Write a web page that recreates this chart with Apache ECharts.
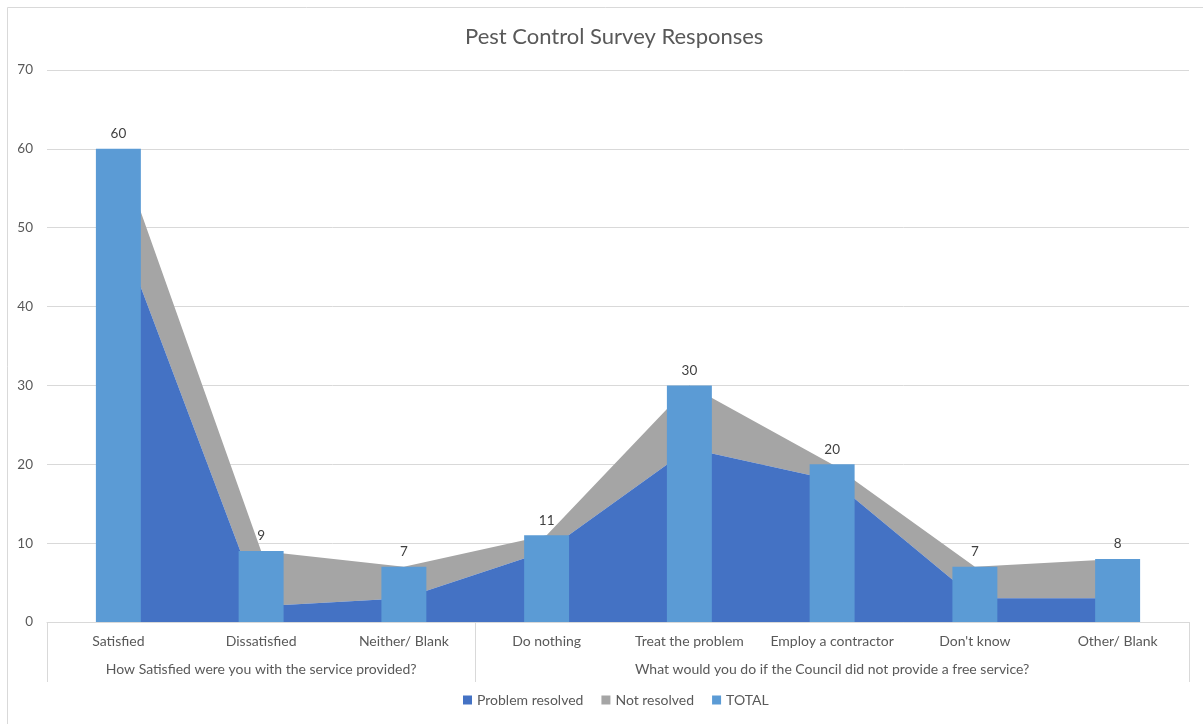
<!DOCTYPE html>
<html>
<head>
<meta charset="utf-8">
<script src="https://cdn.jsdelivr.net/npm/echarts@6/dist/echarts.min.js"></script>
<style>
html,body{margin:0;padding:0;background:#fff;}
#chart{width:1203px;height:724px;}
</style>
</head>
<body>
<div id="chart"></div>
<script>
const categories = ['Satisfied', 'Dissatisfied', 'Neither/ Blank', 'Do nothing', 'Treat the problem', 'Employ a contractor', "Don't know", 'Other/ Blank'];
const groupLabels = ['', 'How Satisfied were you with the service provided?', '', '', '', 'What would you do if the Council did not provide a free service?', '', ''];
const groupStarts = [0, 3];
const problemResolved = [50, 2, 3, 9, 22, 18, 3, 3];
const notResolved = [10, 7, 4, 2, 8, 2, 4, 5];
const total = [60, 9, 7, 11, 30, 20, 7, 8];
const yTicks = { min: 0, max: 70, interval: 10 };

const FONT = 'Lato';
const TXT = '#595959';
const chart = echarts.init(document.getElementById('chart'), null, { renderer: 'canvas' });
chart.setOption({
  backgroundColor: '#fff',
  animation: false,
  textStyle: { fontFamily: FONT },
  title: {
    text: 'Pest Control Survey Responses',
    left: 460, top: 21,
    textStyle: { fontFamily: FONT, fontSize: 22, fontWeight: 'normal', color: TXT }
  },
  graphic: [{
    type: 'rect', shape: { x: 7.5, y: 7.5, width: 1220, height: 740 },
    style: { fill: 'none', stroke: '#d9d9d9', lineWidth: 1 }, silent: true, z: -10
  }],
  legend: {
    bottom: 12, left: 458, itemWidth: 9, itemHeight: 9, itemGap: 18,
    icon: 'rect',
    textStyle: { fontFamily: FONT, fontSize: 14, color: TXT },
    data: ['Problem resolved', 'Not resolved', 'TOTAL']
  },
  grid: { left: 47, right: 14, top: 70, bottom: 102, containLabel: false },
  xAxis: [{
    type: 'category', data: categories, boundaryGap: true,
    axisLine: { show: true, lineStyle: { color: '#d9d9d9' } },
    axisTick: { show: true, length: 60, interval: function (i) { return groupStarts.indexOf(i) >= 0; }, lineStyle: { color: '#d9d9d9' } },
    axisLabel: { interval: 0, margin: 12, color: TXT, fontSize: 14, fontFamily: FONT }
  }, {
    type: 'category', data: groupLabels, position: 'bottom', offset: 28,
    axisLine: { show: false }, axisTick: { show: false },
    axisLabel: { interval: 0, margin: 12, color: TXT, fontSize: 14, fontFamily: FONT }
  }],
  yAxis: {
    type: 'value', min: yTicks.min, max: yTicks.max, interval: yTicks.interval,
    axisLine: { show: false }, axisTick: { show: false },
    axisLabel: { color: TXT, fontSize: 13.5, fontFamily: FONT, margin: 14 },
    splitLine: { lineStyle: { color: '#d9d9d9' } }
  },
  series: [{
    name: 'Problem resolved', type: 'line', stack: 'a', data: problemResolved,
    symbol: 'none', lineStyle: { width: 0 }, areaStyle: { color: '#4472C4', opacity: 1 },
    itemStyle: { color: '#4472C4' }, z: 2
  }, {
    name: 'Not resolved', type: 'line', stack: 'a', data: notResolved,
    symbol: 'none', lineStyle: { width: 0 }, areaStyle: { color: '#A5A5A5', opacity: 1 },
    itemStyle: { color: '#A5A5A5' }, z: 1
  }, {
    name: 'TOTAL', type: 'bar', data: total, barWidth: '31.5%',
    itemStyle: { color: '#5B9BD5' }, z: 5,
    label: { show: true, position: 'top', distance: 8, color: '#404040', fontSize: 13.5, fontFamily: FONT }
  }]
});
</script>
</body>
</html>
